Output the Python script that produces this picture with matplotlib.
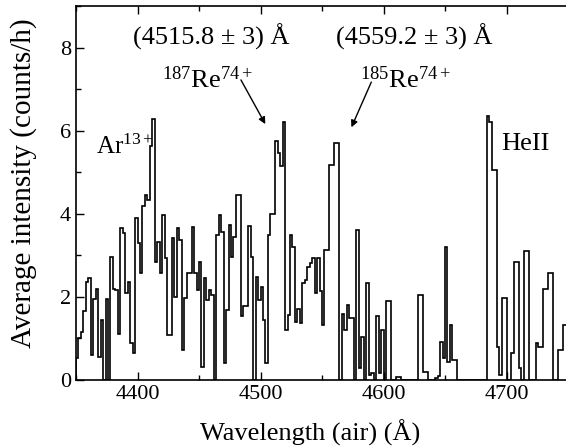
import numpy as np
import matplotlib
matplotlib.use("Agg")
import matplotlib.pyplot as plt
from matplotlib.ticker import MultipleLocator

plt.rcParams['font.family'] = ['Liberation Serif', 'DejaVu Serif']
plt.rcParams['mathtext.fontset'] = 'custom'
plt.rcParams['mathtext.rm'] = 'Liberation Serif'
plt.rcParams['mathtext.it'] = 'Liberation Serif:italic'

# spectrum: 2 A bins starting at 4350 A
bin_start = 4350
bin_width = 2
counts = [
    0.52, 1.00, 1.15, 1.65, 2.35, 2.45, 0.60, 1.95, 2.20, 0.55,   # 4350
    1.45, 0.00, 1.95, 0.00, 2.97, 2.20, 2.17, 1.10, 3.65, 3.53,   # 4370
    2.10, 2.35, 0.90, 0.64, 3.90, 3.29, 2.57, 4.18, 4.46, 4.34,   # 4390
    5.62, 6.27, 2.85, 3.33, 2.57, 3.98, 2.93, 1.08, 1.08, 3.41,   # 4410
    2.00, 3.65, 3.37, 0.72, 1.97, 2.57, 2.57, 3.69, 2.57, 2.17,   # 4430
    2.85, 0.32, 2.45, 1.93, 2.17, 2.05, 0.00, 3.49, 3.98, 3.57,   # 4450
    0.40, 1.69, 3.73, 2.97, 3.45, 4.46, 4.46, 1.53, 1.77, 1.77,   # 4470
    3.70, 2.97, 0.00, 2.49, 1.93, 2.25, 1.45, 0.40, 3.49, 4.00,   # 4490
    4.00, 5.74, 5.46, 5.14, 6.22, 1.20, 1.57, 3.49, 3.20, 1.40,   # 4510
    1.72, 1.36, 2.33, 2.40, 2.73, 2.81, 2.93, 2.09, 2.93, 2.13,   # 4530
    1.33, 3.13, 3.13, 5.18, 5.18, 5.70, 5.70, 0.00, 1.60, 1.20,   # 4550
    1.80, 1.50, 1.50, 0.00, 3.60, 0.28, 1.04, 0.00, 2.33, 0.12,   # 4570
    0.16, 0.00, 1.53, 0.16, 1.20, 0.00, 1.89, 1.89, 0.00, 0.00,   # 4590
    0.08, 0.08, 0.00, 0.00, 0.00, 0.00, 0.00, 0.00, 0.00, 2.05,   # 4610
    2.05, 0.20, 0.20, 0.00, 0.00, 0.00, 0.05, 0.10, 0.92, 0.52,   # 4630
    3.21, 0.44, 1.33, 0.48, 0.48, 0.00, 0.00, 0.00, 0.00, 0.00,   # 4650
    0.00, 0.00, 0.00, 0.00, 0.00, 0.00, 0.00, 6.35, 6.22, 5.06,   # 4670
    5.06, 0.80, 0.12, 1.97, 1.97, 0.00, 0.00, 0.64, 2.85, 2.85,   # 4690
    0.28, 0.00, 3.10, 3.10, 0.00, 0.00, 0.00, 0.88, 0.80, 0.80,   # 4710
    2.20, 2.20, 2.57, 2.57, 0.00, 0.00, 0.72, 0.72, 1.33, 1.33,   # 4730
]
edges = bin_start + bin_width * np.arange(len(counts) + 1)

fig = plt.figure(figsize=(5.66, 4.47), dpi=100)
ax = fig.add_axes([76 / 566, 67 / 447, 492 / 566, 374 / 447])

ax.stairs(counts, edges, color='black', linewidth=1.2)

ax.set_xlim(4350, 4750)
ax.set_ylim(0, 9)
ax.xaxis.set_major_locator(MultipleLocator(100))
ax.xaxis.set_minor_locator(MultipleLocator(50))
ax.yaxis.set_major_locator(MultipleLocator(2))
ax.yaxis.set_minor_locator(MultipleLocator(1))
ax.tick_params(which='both', direction='in', top=True, right=False, labelsize=16, width=1.0)
ax.tick_params(which='major', length=6)
ax.tick_params(which='minor', length=3.5)
for s in ax.spines.values():
    s.set_linewidth(1.2)

ax.set_xlabel('Wavelength (air) (Å)', fontsize=19)
ax.set_ylabel('Average intensity (counts/h)', fontsize=21)
ax.xaxis.set_label_coords(0.475, -0.105)
ax.yaxis.set_label_coords(-0.08, 0.525)

ax.text(4396, 8.07, '(4515.8 ± 3) Å', fontsize=19)
ax.text(4561, 8.07, '(4559.2 ± 3) Å', fontsize=19)
ax.text(4420, 7.04, r'$^{187}\mathrm{Re}^{74+}$', fontsize=19)
ax.text(4581, 7.04, r'$^{185}\mathrm{Re}^{74+}$', fontsize=19)
ax.text(4366, 5.45, r'$\mathrm{Ar}^{13+}$', fontsize=18)
ax.text(4696, 5.54, 'HeII', fontsize=19)

arrow = dict(arrowstyle='-|>', color='black', lw=1.0, mutation_scale=10)
ax.annotate('', xy=(4505, 6.10), xytext=(4483, 7.28), arrowprops=arrow)
ax.annotate('', xy=(4573, 6.02), xytext=(4591, 7.23), arrowprops=arrow)

fig.savefig('out.png', dpi=100)
